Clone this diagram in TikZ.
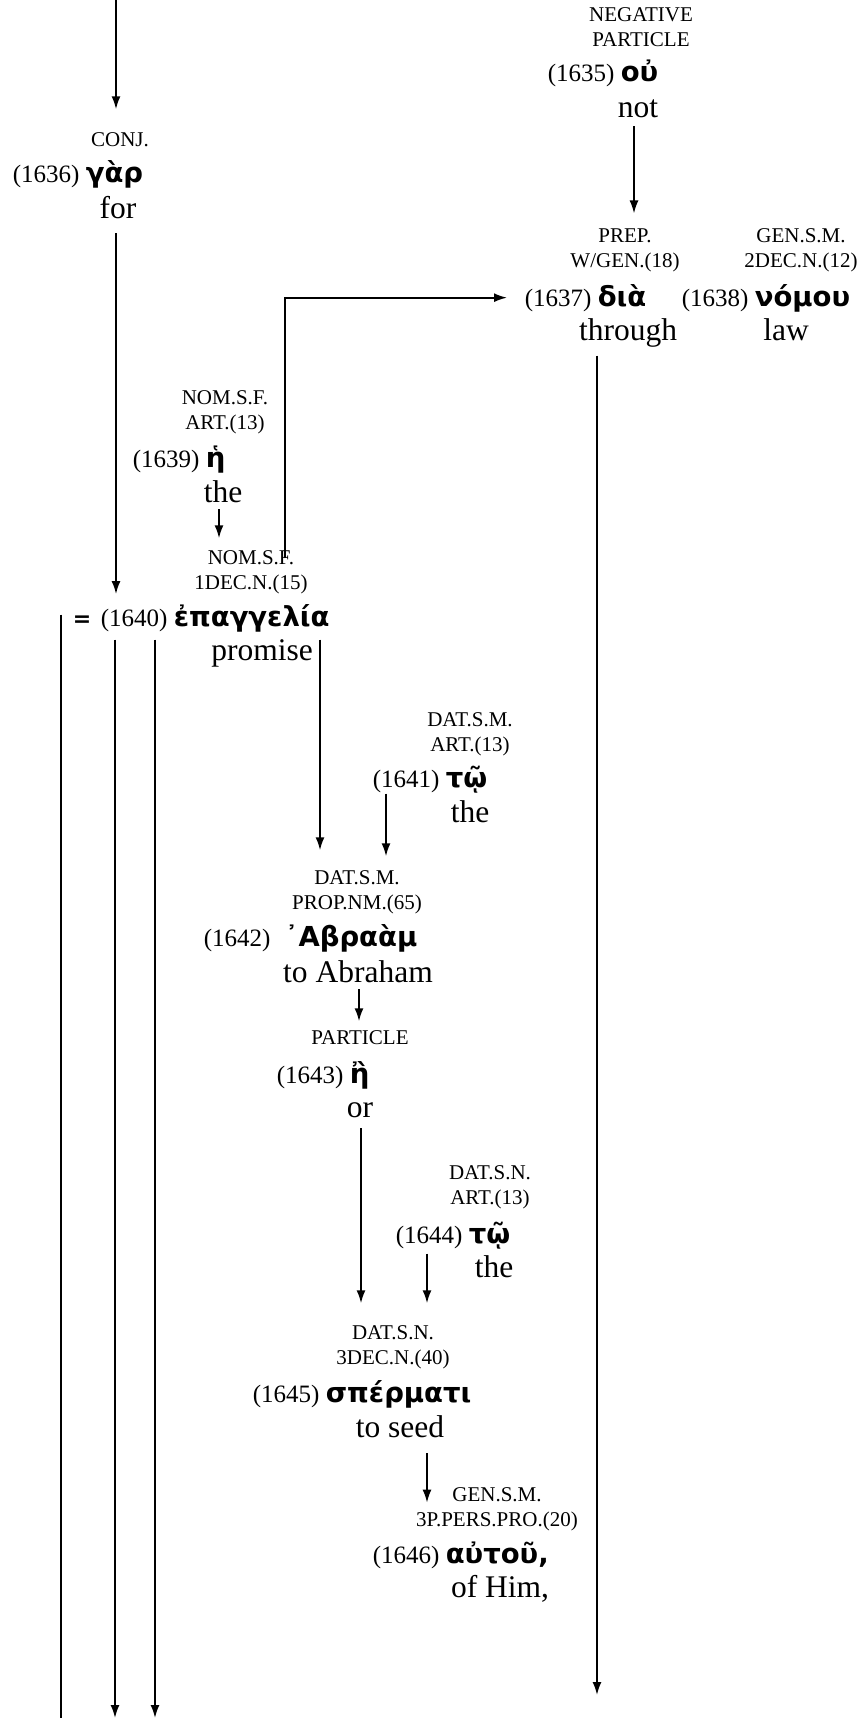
\documentclass[tikz,border=0pt]{standalone}
\usepackage{fontspec}
\usetikzlibrary{arrows.meta}
\setmainfont{Liberation Serif}
\newfontfamily\grkfont[Script=Greek]{DejaVu Sans}
\newcommand{\tagsize}{\fontsize{21}{25}\selectfont}
\newcommand{\numsize}{\fontsize{25}{30}\selectfont}
\newcommand{\glosssize}{\fontsize{31.5}{36}\selectfont}
\newcommand{\grk}[1]{{\grkfont\bfseries\fontsize{27.5}{32}\selectfont #1}}
\newcommand{\wrd}[2]{{\numsize(#1)\ }\grk{#2}}

\begin{document}
\begin{tikzpicture}[x=1pt,y=-1pt,>={Latex[length=13pt,width=9pt]},line width=1.8pt,
    tag/.style={font=\tagsize,align=center,inner sep=0pt,text depth=0pt,anchor=south},
    word/.style={inner sep=0pt,anchor=base west},
    gloss/.style={font=\glosssize,inner sep=0pt,anchor=base}]
  \useasboundingbox (0,0) rectangle (865,1718);
  \coordinate (top) at (116,0);
  \coordinate (bot) at (0,1718);
  \coordinate (botR) at (597,1695);

  \node (t1636) [tag] at (120,147) {CONJ.};
  \node (w1636) [word] at (12,182) {\wrd{1636}{γὰρ}};
  \node (g1636) [gloss] at (118,218) {for};

  \node (t1635) [tag] at (641,47) {NEGATIVE\\PARTICLE};
  \node (w1635) [word] at (547,82) {\wrd{1635}{οὐ}};
  \node (g1635) [gloss] at (638,118) {not};

  \node (t1637) [tag] at (625,268) {PREP.\\W/GEN.(18)};
  \node (w1637) [word] at (524,306) {\wrd{1637}{διὰ}};
  \node (g1637) [gloss] at (628,340) {through};

  \node (t1638) [tag] at (801,268) {GEN.S.M.\\2DEC.N.(12)};
  \node (w1638) [word] at (681,306) {\wrd{1638}{νόμου}};
  \node (g1638) [gloss] at (786,340) {law};

  \node (t1639) [tag] at (225,430) {NOM.S.F.\\ART.(13)};
  \node (w1639) [word] at (132,467) {\wrd{1639}{ἡ}};
  \node (g1639) [gloss] at (223,502) {the};

  \node (t1640) [tag] at (251,590) {NOM.S.F.\\1DEC.N.(15)};
  \node (eq1640) [word] at (72,626) {\grkfont\bfseries\fontsize{22}{26}\selectfont =};
  \node (w1640) [word] at (100,626) {\wrd{1640}{ἐπαγγελία}};
  \node (g1640) [gloss] at (262,660) {promise};

  \node (t1641) [tag] at (470,752) {DAT.S.M.\\ART.(13)};
  \node (w1641) [word] at (372,787) {\wrd{1641}{τῷ}};
  \node (g1641) [gloss] at (470,822) {the};

  \node (t1642) [tag] at (357,910) {DAT.S.M.\\PROP.NM.(65)};
  \node (w1642) [word] at (203,946) {\wrd{1642}{\hspace{8pt}᾿Αβραὰμ}};
  \node (g1642) [gloss] at (358,982) {to Abraham};

  \node (t1643) [tag] at (360,1045) {PARTICLE};
  \node (w1643) [word] at (276,1083) {\wrd{1643}{ἢ}};
  \node (g1643) [gloss] at (360,1117) {or};

  \node (t1644) [tag] at (490,1205) {DAT.S.N.\\ART.(13)};
  \node (w1644) [word] at (395,1243) {\wrd{1644}{τῷ}};
  \node (g1644) [gloss] at (494,1277) {the};

  \node (t1645) [tag] at (393,1365) {DAT.S.N.\\3DEC.N.(40)};
  \node (w1645) [word] at (252,1402) {\wrd{1645}{σπέρματι}};
  \node (g1645) [gloss] at (400,1437) {to seed};

  \node (t1646) [tag] at (497,1527) {GEN.S.M.\\3P.PERS.PRO.(20)};
  \node (w1646) [word] at (372,1563) {\wrd{1646}{αὐτοῦ,}};
  \node (g1646) [gloss] at (500,1597) {of Him,};

  \draw[->,shorten >=22pt] (top) -- (top |- t1636.north);
  \draw[->,shorten <=14pt,shorten >=9pt] ([xshift=-2pt]g1636.south) -- ([xshift=-2pt]g1636.south |- w1640.north);
  \draw[->,shorten <=7pt,shorten >=14pt] ([xshift=-4pt]g1635.south) -- ([xshift=-4pt]g1635.south |- t1637.north);
  \draw[->,shorten <=-9pt,shorten >=17pt] ([xshift=34pt]t1640.north) |- (w1637.west);
  \draw[->,shorten <=8pt] (botR |- g1637.south) -- (botR);
  \draw[->,shorten <=6pt,shorten >=11pt] ([xshift=-4pt]g1639.south) -- ([xshift=-4pt]g1639.south |- t1640.north);
  \draw ([xshift=-11pt]eq1640.north west) -- ([xshift=-11pt]eq1640.north west |- bot);
  \draw[->,shorten <=7pt] ([xshift=15pt]w1640.south west) -- ([xshift=15pt]w1640.south west |- bot);
  \draw[->,shorten <=7pt] ([xshift=55pt]w1640.south west) -- ([xshift=55pt]w1640.south west |- bot);
  \draw[->,shorten <=7pt,shorten >=19pt] ([xshift=220pt]w1640.south west) -- ([xshift=220pt]w1640.south west |- t1642.north);
  \draw[->,shorten >=13pt] ([xshift=14pt]w1641.south west) -- ([xshift=14pt]w1641.south west |- t1642.north);
  \draw[->,shorten <=6pt,shorten >=8pt] ([xshift=1pt]g1642.south) -- ([xshift=1pt]g1642.south |- t1643.north);
  \draw[->,shorten <=10pt,shorten >=21pt] ([xshift=1pt]g1643.south) -- ([xshift=1pt]g1643.south |- t1645.north);
  \draw[->,shorten <=4pt,shorten >=21pt] ([xshift=32pt]w1644.south west) -- ([xshift=32pt]w1644.south west |- t1645.north);
  \draw[->,shorten <=15pt,shorten >=4pt] ([xshift=27pt]g1645.south) -- ([xshift=27pt]g1645.south |- t1646.west);
\end{tikzpicture}
\end{document}
